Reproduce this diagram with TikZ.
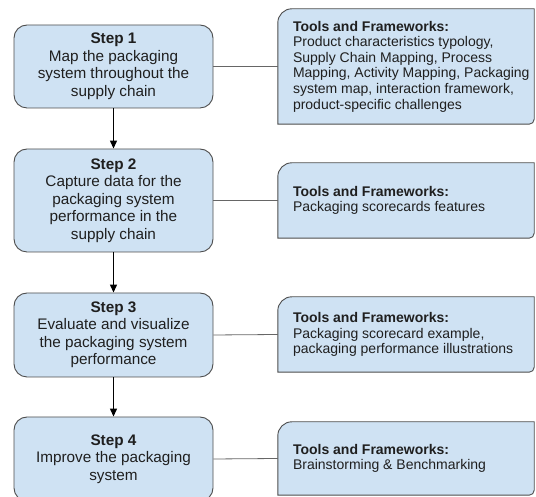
\documentclass[tikz,border=0pt]{standalone}
\usepackage{fontspec}
\setmainfont{Liberation Sans}
\usetikzlibrary{positioning, arrows.meta}
\definecolor{boxblue}{HTML}{CFE2F3}
\definecolor{boxline}{HTML}{4D4D4D}
\definecolor{linkgray}{HTML}{666666}
\definecolor{inkgray}{HTML}{1F1F1F}
\tikzset{
    step node/.style={rectangle, draw=boxline, fill=boxblue, rounded corners=13pt, minimum width=199pt, align=center, text=inkgray, font=\fontsize{15.3}{17.5}\selectfont, line width=0.9pt},
    tool node/.style={rectangle, minimum width=256pt, inner sep=0pt},
    tool text/.style={align=left, inner sep=0pt, text=inkgray, font=\fontsize{14}{15.6}\selectfont},
    tool outline/.style={draw=boxline, fill=boxblue, line width=0.9pt},
    step arrow/.style={-{Triangle[length=8pt, width=7pt]}, line width=1.3pt, black},
    link line/.style={draw=linkgray, line width=0.8pt},
}
\newcommand{\drawtool}[1]{
    \path[tool outline] (#1.south west) -- ([yshift=-14pt]#1.north west)
        arc[start angle=180, end angle=90, radius=14pt] -- (#1.north east)
        -- ([yshift=5pt]#1.south east) arc[start angle=0, end angle=-90, radius=5pt] -- cycle;
}

\begin{document}
\begin{tikzpicture}[x=1pt, y=1pt]
    \useasboundingbox (0,0) rectangle (536,497);
    % steps
    \node[step node, minimum height=83pt] (s1) at (113.5,430.5) {\textbf{Step 1}\\Map the packaging\\system throughout the\\supply chain};
    \node[step node, minimum height=103pt] (s2) at (113.5,296.5) {\textbf{Step 2}\\Capture data for the\\packaging system\\performance in the\\supply chain};
    \node[step node, minimum height=84pt] (s3) at (113.5,162) {\textbf{Step 3}\\Evaluate and visualize\\the packaging system\\performance};
    \node[step node, minimum height=84pt] (s4) at (113.5,38) {\textbf{Step 4}\\Improve the packaging\\system};
    % tools and frameworks
    \node[tool node, minimum height=115pt] (t1) at (406,430.5) {};
    \node[tool node, minimum height=75pt] (t2) at (406,296.5) {};
    \node[tool node, minimum height=75pt] (t3) at (406,162.5) {};
    \node[tool node, minimum height=73pt] (t4) at (406,38.5) {};
    \drawtool{t1}
    \drawtool{t2}
    \drawtool{t3}
    \drawtool{t4}
    \node[tool text, right=15pt of t1.west] (t1text) {\textbf{Tools and Frameworks:}\\Product characteristics typology,\\Supply Chain Mapping, Process\\Mapping, Activity Mapping, Packaging\\system map, interaction framework,\\product-specific challenges};
    \node[tool text, right=15pt of t2.west] (t2text) {\textbf{Tools and Frameworks:}\\Packaging scorecards features};
    \node[tool text, right=15pt of t3.west] (t3text) {\textbf{Tools and Frameworks:}\\Packaging scorecard example,\\packaging performance illustrations};
    \node[tool text, right=15pt of t4.west] (t4text) {\textbf{Tools and Frameworks:}\\Brainstorming \& Benchmarking};
    % connectors
    \draw[step arrow] (s1.south) -- (s2.north);
    \draw[step arrow] (s2.south) -- (s3.north);
    \draw[step arrow] (s3.south) -- (s4.north);
    \draw[link line] (s1.east) -- (t1.west);
    \draw[link line] (s2.east) -- (t2.west);
    \draw[link line] (s3.east) -- (t3.west);
    \draw[link line] (s4.east) -- (t4.west);
\end{tikzpicture}
\end{document}
